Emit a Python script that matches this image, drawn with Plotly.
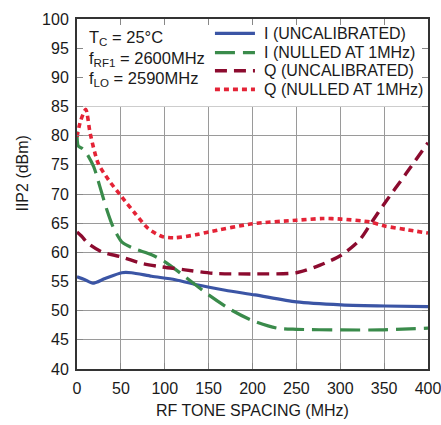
import plotly.graph_objects as go

# ---- data ----
i_uncal_x = [0, 9, 18, 32, 51, 62, 85, 112, 138, 169, 203, 250, 301, 351, 400]
i_uncal_y = [55.8, 55.3, 54.7, 55.5, 56.5, 56.5, 55.9, 55.3, 54.4, 53.5, 52.7, 51.5, 51.0, 50.8, 50.7]

i_null_x = [0, 1.5, 6, 10, 19, 26, 34, 41, 51, 64, 85, 102, 125, 150, 176, 200, 228, 250, 300, 345, 400]
i_null_y = [80.7, 78.2, 77.8, 77.2, 74.7, 71.3, 67.3, 64.4, 61.8, 60.7, 59.6, 58.2, 55.6, 52.7, 50.1, 48.3, 47.0, 46.8, 46.7, 46.7, 47.0]

q_uncal_x = [0, 5, 13, 28, 51, 74, 97, 123, 155, 200, 250, 277, 301, 322, 336, 350, 375, 400]
q_uncal_y = [63.5, 62.8, 61.5, 60.1, 59.2, 58.1, 57.5, 57.0, 56.4, 56.3, 56.5, 57.8, 59.5, 62.1, 65.2, 68.3, 73.5, 78.8]

q_null_x = [0, 4, 10, 15, 24, 36, 51, 66, 81, 97, 112, 135, 150, 200, 250, 280, 301, 334, 351, 375, 400]
q_null_y = [79.8, 82.5, 84.5, 80.4, 75.3, 72.4, 69.5, 66.7, 64.1, 62.7, 62.5, 63.0, 63.5, 64.9, 65.5, 65.8, 65.7, 65.2, 64.5, 63.9, 63.3]

series_names = ["I (UNCALIBRATED)", "I (NULLED AT 1MHz)", "Q (UNCALIBRATED)", "Q (NULLED AT 1MHz)"]
x_ticks = [0, 50, 100, 150, 200, 250, 300, 350, 400]
y_ticks = [40, 45, 50, 55, 60, 65, 70, 75, 80, 85, 90, 95, 100]
cond_lines = ["T<sub>C</sub> = 25°C", "f<sub>RF1</sub> = 2600MHz", "f<sub>LO</sub> = 2590MHz"]

FONT = "Liberation Sans, Arial, sans-serif"
TXT = "#1a1a1a"
styles = [
    dict(color="#3B55A5", width=3.2, dash="solid"),
    dict(color="#3A8B4B", width=3.2, dash="20px,8px"),
    dict(color="#8C0B2F", width=3.4, dash="12px,7px"),
    dict(color="#E42336", width=3.6, dash="5px,4px"),
]
data = [(i_uncal_x, i_uncal_y), (i_null_x, i_null_y), (q_uncal_x, q_uncal_y), (q_null_x, q_null_y)]

fig = go.Figure()
for (xs, ys), name, st in zip(data, series_names, styles):
    fig.add_trace(go.Scatter(x=xs, y=ys, mode="lines", name=name,
                             line=dict(shape="spline", smoothing=0.7, **st),
                             showlegend=False))

shapes = [
    # white box behind the legend / conditions (hides grid above 85)
    dict(type="rect", xref="x", yref="y", x0=0, x1=400, y0=85, y1=100,
         fillcolor="white", line=dict(width=0), layer="between"),
]
annotations = []
# legend drawn by hand
leg_y = [0.959, 0.904, 0.852, 0.799]
for name, st, yy in zip(series_names, styles, leg_y):
    shapes.append(dict(type="line", xref="paper", yref="paper", x0=0.393, x1=0.507,
                       y0=yy, y1=yy, line=dict(color=st["color"], width=st["width"], dash=st["dash"])))
    annotations.append(dict(xref="paper", yref="paper", x=0.527, y=yy, text=name,
                            showarrow=False, xanchor="left", yanchor="middle",
                            font=dict(family=FONT, size=16, color=TXT)))
for txt, yy in zip(cond_lines, [0.945, 0.885, 0.828]):
    annotations.append(dict(xref="paper", yref="paper", x=0.028, y=yy, text=txt,
                            showarrow=False, xanchor="left", yanchor="middle",
                            font=dict(family=FONT, size=16.5, color=TXT)))
# axis titles
annotations.append(dict(xref="paper", yref="y", x=-0.154, y=73.5, text="IIP2 (dBm)",
                        showarrow=False, textangle=-90, xanchor="center", yanchor="middle",
                        font=dict(family=FONT, size=16, color=TXT)))
annotations.append(dict(xref="paper", yref="paper", x=0.5, y=-0.118, text="RF TONE SPACING (MHz)",
                        showarrow=False, xanchor="center", yanchor="middle",
                        font=dict(family=FONT, size=16, color=TXT)))

fig.update_layout(
    width=441, height=425,
    margin=dict(l=77, r=13, t=19, b=56, autoexpand=False),
    paper_bgcolor="white", plot_bgcolor="white",
    font=dict(family=FONT, size=16, color=TXT),
    shapes=shapes, annotations=annotations,
    showlegend=False,
)
fig.update_xaxes(range=[0, 400], tickvals=x_ticks, showgrid=True, gridcolor="#9a9a9a", gridwidth=1.3,
                 showline=True, linecolor="#333333", linewidth=2, mirror="ticks",
                 ticks="inside", ticklen=6, tickcolor="#888888", tickwidth=1.3, zeroline=False,
                 automargin=False, tickfont=dict(size=16), ticklabeloverflow="allow",
                 ticklabelstandoff=4)
fig.update_yaxes(range=[40, 100], tickvals=y_ticks, showgrid=True, gridcolor="#9a9a9a", gridwidth=1.3,
                 showline=True, linecolor="#333333", linewidth=2, mirror="ticks",
                 ticks="inside", ticklen=6, tickcolor="#888888", tickwidth=1.3, zeroline=False,
                 automargin=False, tickfont=dict(size=16), ticklabeloverflow="allow",
                 ticklabelstandoff=3)

fig.write_html("out.html", config={"displayModeBar": False},
               post_script="document.body.style.margin='0px';")
